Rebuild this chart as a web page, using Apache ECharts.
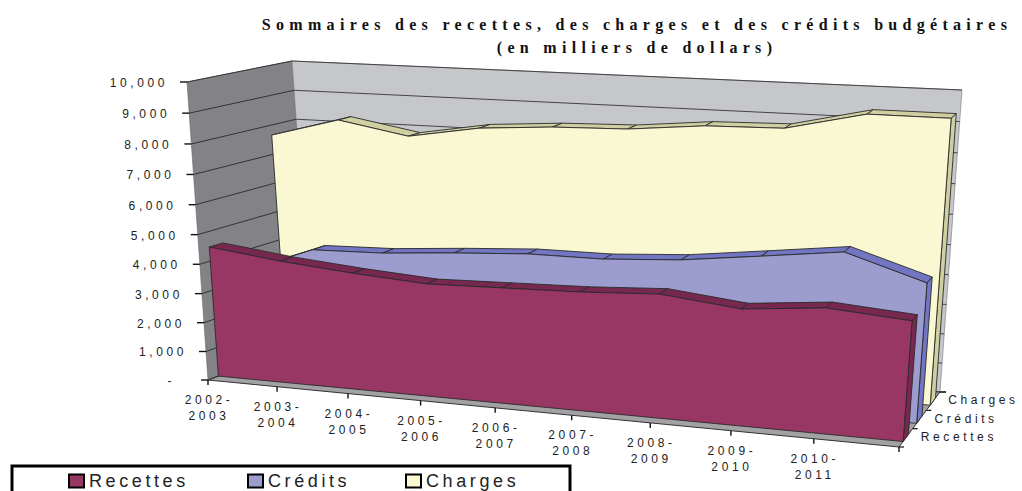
<!DOCTYPE html>
<html>
<head>
<meta charset="utf-8">
<script src="https://cdn.jsdelivr.net/npm/echarts@6/dist/echarts.min.js"></script>
<style>
html, body { margin: 0; padding: 0; background: #fff; overflow: hidden; }
#main { width: 1022px; height: 491px; }
#main text { letter-spacing: 3.6px; }
#main text[style*="Serif"] { letter-spacing: 5.3px; }
#main text[style*="18px"] { letter-spacing: 3.6px; }
</style>
</head>
<body>
<div id="main"></div>
<script>
var categories = ['2002-\n2003', '2003-\n2004', '2004-\n2005', '2005-\n2006', '2006-\n2007',
    '2007-\n2008', '2008-\n2009', '2009-\n2010', '2010-\n2011', ''];
var recettes = [4480, 4185, 3975, 3815, 3885, 3955, 4095, 3825, 4075, 3885];
var credits = [3310, 4200, 4265, 4450, 4600, 4610, 4770, 5080, 5400, 4600];
var charges = [7660, 8300, 7880, 8280, 8445, 8510, 8745, 8800, 9380, 9380];
var yTicks = [0, 1000, 2000, 3000, 4000, 5000, 6000, 7000, 8000, 9000, 10000];
var yTickLabels = ['-', '1,000', '2,000', '3,000', '4,000', '5,000', '6,000', '7,000', '8,000', '9,000', '10,000'];
var depthLabels = ['Recettes', 'Crédits', 'Charges'];

// box corners of the fake 3d view, [front, back] > [left, right] > [bottom, top]
var corners = [
    [[[208, 380], [187, 82]], [[899, 447], [923, 125]]],
    [[[312, 341], [292, 61]], [[940, 392], [962, 90]]]
];
var perspectiveX = 1.125;
var perspectiveY = 1.05;
var lastCat = categories.length - 1;

function mix(a, b, k) {
    return [a[0] + (b[0] - a[0]) * k, a[1] + (b[1] - a[1]) * k];
}

// data value -> axis pixel -> position in the tilted box
function project(api, cs, cat, val, depth) {
    var p = api.coord([cat, val]);
    var t = (p[0] - cs.x) / cs.width;
    var s = (cs.y + cs.height - p[1]) / cs.height;
    var u = t / (t + perspectiveX * (1 - t));
    var v = s / (s + perspectiveY * (1 - s));
    var front = mix(mix(corners[0][0][0], corners[0][1][0], u), mix(corners[0][0][1], corners[0][1][1], u), v);
    var back = mix(mix(corners[1][0][0], corners[1][1][0], u), mix(corners[1][0][1], corners[1][1][1], u), v);
    return mix(front, back, depth);
}

function poly(points, fill, stroke, width) {
    return {
        type: 'polygon',
        shape: { points: points },
        style: { fill: fill, stroke: stroke || null, lineWidth: width || 0 }
    };
}

function line(a, b, color, width) {
    return {
        type: 'line',
        shape: { x1: a[0], y1: a[1], x2: b[0], y2: b[1] },
        style: { stroke: color, lineWidth: width }
    };
}

function label(text, x, y, align, vAlign) {
    return {
        type: 'text',
        style: {
            text: text, x: x, y: y, align: align, verticalAlign: vAlign || 'middle',
            font: '12px "Liberation Sans"', lineHeight: 16, fill: '#222'
        }
    };
}

function renderBox(params, api) {
    var cs = params.coordSys;
    var kids = [];
    function P(cat, val, depth) { return project(api, cs, cat, val, depth); }

    kids.push(poly([P(0, 0, 0), P(0, 10000, 0), P(0, 10000, 1), P(0, 0, 1)], '#838387', '#666', 0.6));
    kids.push(poly([P(0, 0, 1), P(0, 10000, 1), P(lastCat, 10000, 1), P(lastCat, 0, 1)], '#c6c7cb', '#777', 0.6));
    kids.push(poly([P(0, 0, 0), P(0, 0, 1), P(lastCat, 0, 1), P(lastCat, 0, 0)], '#a2a2a4', '#333', 1));

    yTicks.forEach(function (val, i) {
        var a = P(0, val, 0);
        kids.push(line(a, P(0, val, 1), '#333', 1));
        kids.push(line(P(0, val, 1), P(lastCat, val, 1), '#444', 1));
        kids.push(line([a[0] - 7, a[1]], a, '#111', 1.4));
        kids.push(label(yTickLabels[i], a[0] - (val === 0 ? 33 : 19), a[1] + 1, 'right'));
    });

    categories.forEach(function (cat, i) {
        var a = P(i, 0, 0);
        kids.push(line(a, [a[0], a[1] + 5], '#111', 1.4));
        if (cat) {
            kids.push(label(cat, a[0] + 1, a[1] + 28, 'center'));
        }
    });

    depthLabels.forEach(function (name, i) {
        var a = P(lastCat, 0, i / 3);
        var b = P(lastCat, 0, (i + 1) / 3);
        var c = mix(a, b, 0.5);
        kids.push(line(a, [a[0] + 5, a[1]], '#111', 1.2));
        kids.push(label(name, c[0] + 15, c[1] - 1, 'left'));
    });
    var end = P(lastCat, 0, 1);
    kids.push(line(end, [end[0] + 6, end[1]], '#111', 1.6));

    return { type: 'group', children: kids };
}

// one area ribbon: top bands one per segment, then end cap and front face on the last point
function ribbon(values, d0, d1, faceColor, topColor) {
    return function (params, api) {
        var cs = params.coordSys;
        var i = params.dataIndex;
        var kids = [];
        function P(cat, val, depth) { return project(api, cs, cat, val, depth); }

        if (i < lastCat) {
            kids.push(poly([
                P(i, values[i], d0), P(i, values[i], d1),
                P(i + 1, values[i + 1], d1), P(i + 1, values[i + 1], d0)
            ], topColor, '#2a2a2a', 0.9));
            return { type: 'group', children: kids };
        }

        kids.push(poly([
            P(i, values[i], d0), P(i, values[i], d1), P(i, 0, d1), P(i, 0, d0)
        ], topColor, '#2a2a2a', 0.9));

        var pts = [P(0, 0, d0)];
        values.forEach(function (val, j) { pts.push(P(j, val, d0)); });
        pts.push(P(lastCat, 0, d0));
        kids.push(poly(pts, faceColor, '#2a2a2a', 0.9));
        return { type: 'group', children: kids };
    };
}

function toPoints(values) {
    return values.map(function (val, i) { return [i, val]; });
}

function legendAt(name, x) {
    return {
        data: [name],
        left: x,
        top: 472,
        padding: 0,
        icon: 'rect',
        itemWidth: 15,
        itemHeight: 13,
        itemGap: 0,
        itemStyle: { borderColor: '#000', borderWidth: 2 },
        selectedMode: false,
        textStyle: { fontFamily: 'Liberation Sans', fontSize: 18, color: '#222' }
    };
}

var chart = echarts.init(document.getElementById('main'), null, { renderer: 'svg' });
var option = {
    animation: false,
    backgroundColor: '#fff',
    title: {
        text: 'Sommaires des recettes, des charges et des crédits budgétaires\n(en milliers de dollars)',
        left: 632,
        top: 8,
        textAlign: 'center',
        textStyle: { fontFamily: 'Liberation Serif', fontWeight: 'bold', fontSize: 16, lineHeight: 23, color: '#111' }
    },
    legend: [legendAt('Recettes', 68), legendAt('Crédits', 247), legendAt('Charges', 405)],
    grid: { left: 0, right: 0, top: 0, bottom: 0 },
    xAxis: { type: 'category', show: false, boundaryGap: false, data: categories },
    yAxis: { type: 'value', show: false, min: 0, max: 10000, interval: 1000 },
    graphic: [{
        type: 'polyline',
        shape: { points: [[12, 495], [12, 466], [570, 466], [570, 495]] },
        style: { stroke: '#000', lineWidth: 3, fill: null }
    }],
    series: [
        { type: 'custom', name: 'box', silent: true, data: [[0, 0]], renderItem: renderBox },
        { type: 'custom', name: 'Charges', silent: true, data: toPoints(charges), itemStyle: { color: '#f9f8d2' },
            renderItem: ribbon(charges, 0.76, 0.89, '#f9f8d2', '#cfcfa2') },
        { type: 'custom', name: 'Crédits', silent: true, data: toPoints(credits), itemStyle: { color: '#9c9ccf' },
            renderItem: ribbon(credits, 0.43, 0.56, '#9c9ccf', '#7276c2') },
        { type: 'custom', name: 'Recettes', silent: true, data: toPoints(recettes), itemStyle: { color: '#993764' },
            renderItem: ribbon(recettes, 0.1, 0.23, '#993764', '#76284e') }
    ]
};
chart.setOption(option);
</script>
</body>
</html>
